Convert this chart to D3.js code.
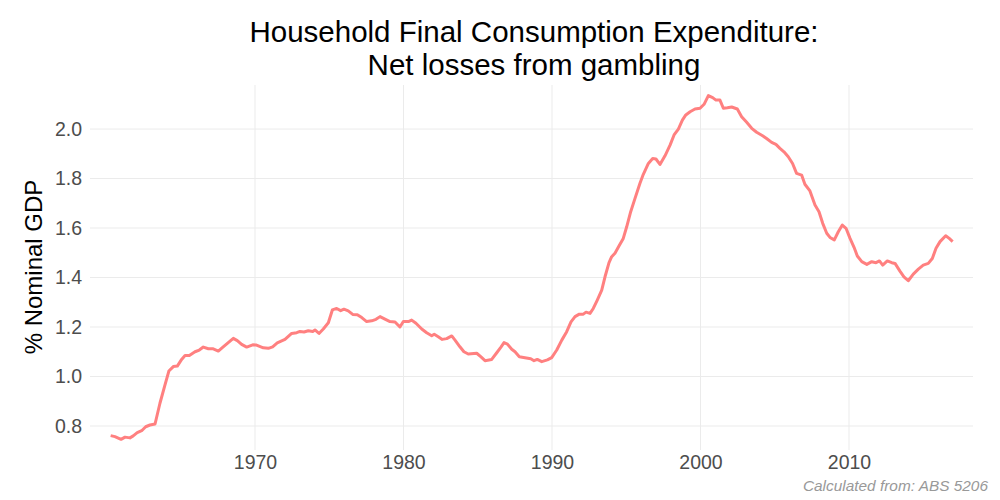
<!DOCTYPE html>
<html>
<head>
<meta charset="utf-8">
<script src="https://cdn.jsdelivr.net/npm/d3@7"></script>
<style>
  body { margin: 0; background: #fff; }
  svg { font-family: "Liberation Sans", Arial, sans-serif; }
</style>
</head>
<body>
<div class="chart"></div>
<script>
// quarterly readings, % of nominal GDP
var years = [
  1960.28,1960.57,1960.98,1961.25,1961.58,1961.8,1962.07,1962.37,1962.64,1962.93,
  1963.27,1963.6,1963.94,1964.2,1964.5,1964.77,1965.06,1965.29,1965.58,1965.96,
  1966.25,1966.52,1966.86,1967.19,1967.53,1967.82,1968.2,1968.54,1968.81,1969.1,
  1969.44,1969.85,1970.1,1970.56,1970.9,1971.19,1971.5,1972.02,1972.47,1972.81,
  1973.03,1973.3,1973.59,1973.89,1974.04,1974.31,1974.6,1974.94,1975.21,1975.5,
  1975.77,1975.99,1976.28,1976.58,1976.89,1977.19,1977.52,1977.86,1978.15,1978.42,
  1978.75,1979.09,1979.43,1979.76,1979.99,1980.33,1980.55,1980.84,1981.23,1981.56,
  1981.9,1982.07,1982.34,1982.61,1982.91,1983.25,1983.47,1983.8,1984.07,1984.36,
  1984.93,1985.2,1985.49,1985.94,1986.28,1986.55,1986.77,1987.0,1987.29,1987.51,
  1987.8,1988.18,1988.57,1988.79,1989.01,1989.31,1989.69,1989.98,1990.32,1990.66,
  1990.99,1991.28,1991.55,1991.84,1992.11,1992.29,1992.56,1992.78,1993.05,1993.35,
  1993.57,1993.84,1994.02,1994.24,1994.51,1994.8,1995.03,1995.3,1995.59,1995.93,
  1996.15,1996.49,1996.78,1997.0,1997.27,1997.61,1997.95,1998.22,1998.51,1998.78,
  1999.01,1999.3,1999.63,1999.97,2000.24,2000.53,2000.82,2001.04,2001.31,2001.54,
  2001.81,2002.1,2002.48,2002.77,2003.11,2003.45,2003.78,2004.18,2004.45,2004.79,
  2005.08,2005.35,2005.62,2005.91,2006.2,2006.47,2006.81,2007.03,2007.37,2007.71,
  2007.98,2008.23,2008.5,2008.72,2009.01,2009.28,2009.55,2009.8,2010.07,2010.34,
  2010.56,2010.86,2011.2,2011.53,2011.82,2012.05,2012.27,2012.58,2012.88,2013.1,
  2013.43,2013.7,2013.99,2014.33,2014.67,2015.0,2015.34,2015.61,2015.86,2016.13,
  2016.51,2016.75,2016.98
];
var gamblingShare = [
  0.761,0.757,0.746,0.755,0.752,0.760,0.773,0.781,0.797,0.804,
  0.808,0.892,0.966,1.022,1.040,1.042,1.069,1.085,1.085,1.100,
  1.107,1.119,1.112,1.112,1.103,1.118,1.137,1.154,1.145,1.130,
  1.119,1.128,1.127,1.116,1.114,1.120,1.136,1.150,1.174,1.177,
  1.182,1.180,1.185,1.182,1.188,1.174,1.192,1.217,1.269,1.275,
  1.266,1.272,1.265,1.251,1.250,1.238,1.222,1.225,1.231,1.242,
  1.232,1.222,1.220,1.200,1.222,1.222,1.228,1.215,1.192,1.177,
  1.165,1.171,1.161,1.150,1.153,1.164,1.147,1.120,1.100,1.091,
  1.094,1.080,1.064,1.069,1.096,1.118,1.137,1.131,1.110,1.100,
  1.080,1.076,1.072,1.064,1.069,1.060,1.067,1.076,1.107,1.147,
  1.181,1.221,1.242,1.252,1.252,1.260,1.255,1.275,1.309,1.349,
  1.403,1.460,1.484,1.498,1.527,1.558,1.605,1.666,1.720,1.782,
  1.817,1.861,1.881,1.879,1.857,1.892,1.935,1.976,2.000,2.036,
  2.057,2.070,2.081,2.084,2.100,2.135,2.127,2.117,2.117,2.084,
  2.086,2.089,2.081,2.050,2.027,2.003,1.987,1.973,1.962,1.946,
  1.938,1.922,1.908,1.888,1.861,1.821,1.814,1.777,1.750,1.693,
  1.666,1.619,1.579,1.562,1.552,1.585,1.612,1.599,1.558,1.522,
  1.487,1.464,1.453,1.464,1.460,1.467,1.450,1.467,1.460,1.457,
  1.426,1.403,1.387,1.414,1.434,1.450,1.457,1.477,1.518,1.545,
  1.569,1.558,1.545
];
var xTicks = [1970, 1980, 1990, 2000, 2010];
var yTicks = [0.8, 1.0, 1.2, 1.4, 1.6, 1.8, 2.0];

var svg_width = 1000;
var svg_height = 500;
var panel = {left: 90, right: 973, top: 85, bottom: 450};

var svg = d3.select(".chart").append("svg")
  .attr("width", svg_width)
  .attr("height", svg_height);

var x = d3.scaleLinear()
  .domain([1958.89, 2018.35])
  .range([panel.left, panel.right]);

var y = d3.scaleLinear()
  .domain([0.703, 2.178])
  .range([panel.bottom, panel.top]);

// grid
svg.append("g").selectAll("line.h")
  .data(yTicks).enter().append("line")
  .attr("x1", panel.left).attr("x2", panel.right)
  .attr("y1", function(d) { return y(d); })
  .attr("y2", function(d) { return y(d); })
  .attr("stroke", "#ebebeb").attr("stroke-width", 1);

svg.append("g").selectAll("line.v")
  .data(xTicks).enter().append("line")
  .attr("y1", panel.top).attr("y2", panel.bottom)
  .attr("x1", function(d) { return x(d); })
  .attr("x2", function(d) { return x(d); })
  .attr("stroke", "#ebebeb").attr("stroke-width", 1);

// axes (ticks hidden, labels only)
var yAxis = svg.append("g")
  .attr("transform", "translate(" + panel.left + ",0)")
  .call(d3.axisLeft(y).tickValues(yTicks).tickFormat(d3.format(".1f")).tickSize(0).tickPadding(8));
var xAxis = svg.append("g")
  .attr("transform", "translate(0," + panel.bottom + ")")
  .call(d3.axisBottom(x).tickValues(xTicks).tickFormat(d3.format("d")).tickSize(0).tickPadding(5));

[yAxis, xAxis].forEach(function(a) {
  a.select(".domain").remove();
  a.selectAll("text")
    .attr("fill", "#4d4d4d")
    .style("font-size", "19.5px")
    .style("font-family", "Liberation Sans, Arial, sans-serif");
});

// line
var line = d3.line()
  .x(function(d, i) { return x(years[i]); })
  .y(function(d) { return y(d); });

svg.append("path")
  .datum(gamblingShare)
  .attr("d", line)
  .attr("fill", "none")
  .attr("stroke", "#ff8080")
  .attr("stroke-width", 3)
  .attr("stroke-linejoin", "round");

// titles
var cx = 534;
svg.append("text")
  .attr("x", cx).attr("y", 42)
  .attr("text-anchor", "middle")
  .style("font-size", "29.5px")
  .text("Household Final Consumption Expenditure:");
svg.append("text")
  .attr("x", cx).attr("y", 75)
  .attr("text-anchor", "middle")
  .style("font-size", "29.5px")
  .text("Net losses from gambling");

svg.append("text")
  .attr("transform", "translate(42,267) rotate(-90)")
  .attr("text-anchor", "middle")
  .style("font-size", "24px")
  .text("% Nominal GDP");

svg.append("text")
  .attr("x", 988).attr("y", 491)
  .attr("text-anchor", "end")
  .attr("fill", "#999999")
  .style("font-size", "15.4px")
  .style("font-style", "italic")
  .text("Calculated from: ABS 5206");
</script>
</body>
</html>
